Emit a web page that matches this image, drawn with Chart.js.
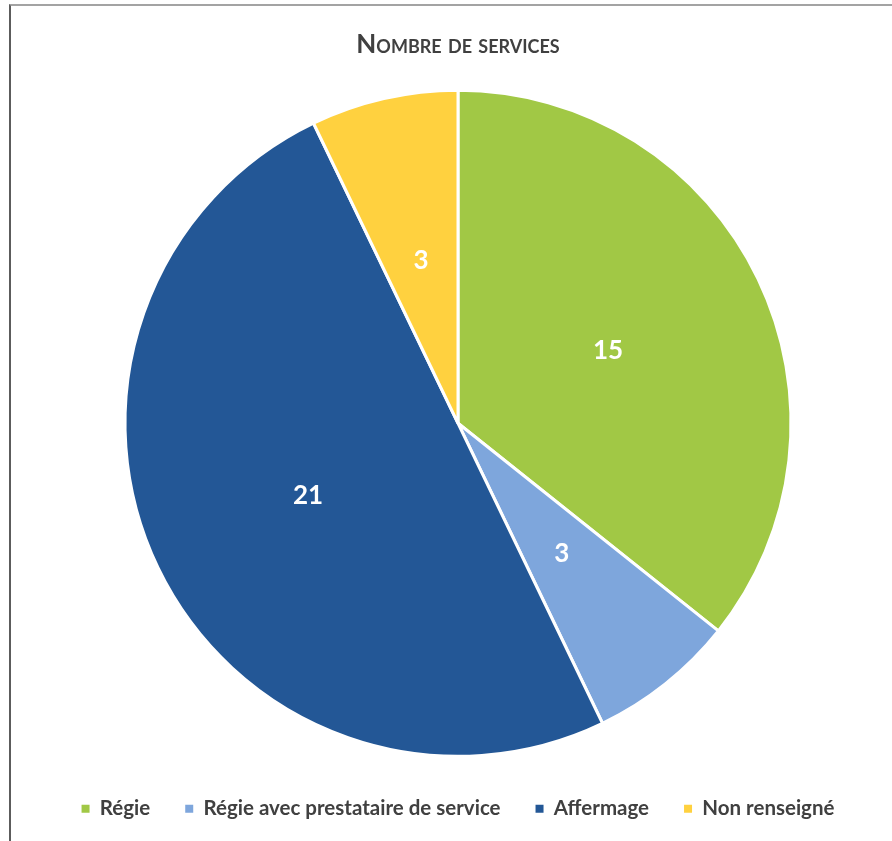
<!DOCTYPE html>
<html>
<head>
<meta charset="utf-8">
<script src="https://cdn.jsdelivr.net/npm/chart.js@4"></script>
<style>
    body { margin: 0; background: #fff; }
    .frame {
        position: absolute;
        left: 9px;
        top: 4px;
        width: 900px;
        height: 900px;
        border-top: 2px solid #a3a3a3;
        border-left: 2px solid #5c5c5c;
    }
    #myChart { position: absolute; left: 0; top: 0; }
</style>
</head>
<body>
<div class="frame"></div>
<canvas id="myChart" width="892" height="841"></canvas>
<script>
const title = 'Nombre de services';
const labels = ['Régie', 'Régie avec prestataire de service', 'Affermage', 'Non renseigné'];
const services = [15, 3, 21, 3];
const colors = ['#a1c845', '#7ea6dc', '#235796', '#ffd13f'];

// numbers inside the slices + small caps title
const sliceLabels = {
    id: 'sliceLabels',
    afterDatasetsDraw(chart) {
        const ctx = chart.ctx;
        const meta = chart.getDatasetMeta(0);
        ctx.save();
        ctx.fillStyle = '#ffffff';
        ctx.font = 'bold 26px Lato';
        ctx.textAlign = 'center';
        ctx.textBaseline = 'middle';
        meta.data.forEach((arc, i) => {
            const p = arc.tooltipPosition();
            ctx.fillText(services[i], p.x, p.y);
        });

        ctx.fillStyle = '#404040';
        ctx.font = 'small-caps bold 26px Lato';
        ctx.textBaseline = 'alphabetic';
        ctx.fillText(title, (chart.chartArea.left + chart.chartArea.right) / 2, 53);
        ctx.restore();
    }
};

const ctx = document.getElementById('myChart');

const myChart = new Chart(ctx, {
    type: 'pie',
    plugins: [sliceLabels],
    data: {
        labels: labels,
        datasets: [{
            data: services,
            backgroundColor: colors,
            borderColor: '#ffffff',
            borderWidth: 3,
            radius: 333
        }]
    },
    options: {
        responsive: false,
        animation: false,
        layout: {
            padding: { top: 83, bottom: 12, left: 24, right: 0 }
        },
        plugins: {
            tooltip: { enabled: false },
            legend: {
                position: 'bottom',
                labels: {
                    color: '#404040',
                    font: { size: 20.5, family: 'Lato', weight: 'bold' },
                    boxWidth: 8,
                    boxHeight: 8,
                    padding: 35,
                    generateLabels(chart) {
                        const items = Chart.overrides.pie.plugins.legend.labels.generateLabels(chart);
                        items.forEach(item => { item.lineWidth = 0; });
                        return items;
                    }
                }
            }
        }
    }
});
</script>
</body>
</html>
